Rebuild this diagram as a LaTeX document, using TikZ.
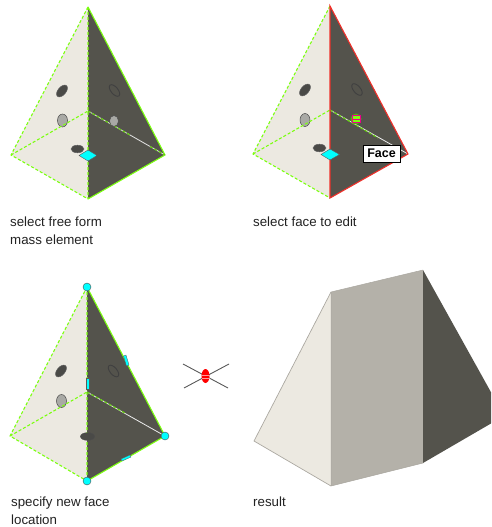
\documentclass[tikz,border=0pt]{standalone}
\usepackage{fontspec}
\setmainfont{Liberation Sans}
\definecolor{lightface}{HTML}{ECE9E1}
\definecolor{darkface}{HTML}{54534C}
\definecolor{midface}{HTML}{B4B1A9}
\definecolor{holedark}{HTML}{4A4A47}
\definecolor{holegray}{HTML}{A9A9A5}
\definecolor{grip}{HTML}{00FFFF}
\definecolor{sel}{HTML}{7CFF10}
\definecolor{hot}{HTML}{F0302A}
\definecolor{txt}{HTML}{222222}
\tikzset{
  x=1pt,y=-1pt,
  caption/.style={anchor=north west,inner sep=0pt,align=left,text=txt,font=\fontsize{13.3}{17.5}\selectfont},
  lface/.style={fill=lightface,draw=none},
  dface/.style={fill=darkface,draw=none},
  seldash/.style={draw=sel,line width=1.1pt,dash pattern=on 3pt off 2pt},
  selsolid/.style={draw=sel,line width=1.1pt},
  hotline/.style={draw=hot,line width=1.1pt},
  dhole/.style={fill=holedark,draw=gray!75!black,line width=.5pt},
  ghole/.style={fill=holegray,draw=gray!60!black,line width=.5pt},
  rhole/.style={fill=darkface,draw=black!75,line width=.9pt},
  gripd/.style={fill=grip,draw=gray!70!black,line width=.4pt},
  gripc/.style={circle,fill=grip,draw=gray!60!black,line width=.4pt,minimum size=8pt,inner sep=0pt},
  gripb/.style={fill=grip,draw=gray!70!black,line width=.3pt},
  ridge/.style={draw=white!85!gray,line width=.8pt},
}
\begin{document}
\begin{tikzpicture}
\useasboundingbox (0,0) rectangle (491,527);
% ---------- panel 1
\fill[lface] (88,7) -- (11,155) -- (88,199) -- cycle;
\fill[dface] (88,7) -- (165,155) -- (88,199) -- cycle;
\draw[ghole] (62.5,120.5) ellipse [x radius=5,y radius=6.5];
\draw[dhole] (62,91) ellipse [x radius=7,y radius=4,rotate=50];
\draw[rhole] (114.5,90.5) ellipse [x radius=7,y radius=3.5,rotate=-50];
\draw[dhole] (77.5,149) ellipse [x radius=6.5,y radius=3.8];
\draw[seldash] (88,7) -- (11,155) -- (88,199) (11,155) -- (88,111) (88,7) -- (88,199);
\draw[selsolid] (88,7) -- (165,155) -- (88,199);
\draw[ridge] (88,111) -- (165,155);
\draw[seldash,sel!80!black] (88,111) -- (130,135);
\draw[seldash,sel!80!black] (150,146.5) -- (165,155);
\draw[ghole] (114,121) ellipse [x radius=4.5,y radius=5.5];
\draw[gripd] (88,150) -- (97,155.5) -- (88,161) -- (79,155.5) -- cycle;
\node[caption] (cap1) at (10,217) {select free form\\mass element};
% ---------- panel 2
\fill[lface] (330,6) -- (253,154) -- (330,198) -- cycle;
\fill[dface] (330,6) -- (408,154) -- (330,198) -- cycle;
\draw[ghole] (305,120) ellipse [x radius=5,y radius=6.5];
\draw[dhole] (305,90) ellipse [x radius=7,y radius=4,rotate=50];
\draw[rhole] (357,89.5) ellipse [x radius=7,y radius=3.5,rotate=-50];
\draw[dhole] (319.5,148) ellipse [x radius=6.5,y radius=3.8];
\draw[seldash] (330,6) -- (253,154) -- (330,198) (253,154) -- (330,110);
\draw[ridge] (330,110) -- (408,154);
\draw[seldash,sel!80!black] (330,110) -- (378,138);
\draw[hotline] (330,6) -- (408,154) -- (330,198) -- cycle;
\fill[sel!70!black] (356,119) circle [radius=5.5];
\draw[magenta,fill=sel,line width=.7pt] (352,115.5) rectangle (360,122.5);
\draw[magenta,line width=.5pt] (352,119) -- (360,119);
\draw[gripd] (330,149) -- (339.5,154.5) -- (330,160) -- (321,154.5) -- cycle;
\node[draw=black,fill=white,line width=.6pt,inner xsep=3pt,inner ysep=2pt,font=\fontsize{12.5}{12.5}\selectfont\bfseries,minimum width=37pt,minimum height=17pt] (face) at (381.5,153.5) {Face};
\node[caption] (cap2) at (253,217) {select face to edit};
% ---------- panel 3
\fill[lface] (87,287) -- (10,436) -- (87,481) -- cycle;
\fill[dface] (87,287) -- (165,436) -- (87,481) -- cycle;
\draw[ghole] (61.5,401) ellipse [x radius=5,y radius=6.5];
\draw[dhole] (61,371) ellipse [x radius=7,y radius=4,rotate=50];
\draw[rhole] (113.5,371) ellipse [x radius=7,y radius=3.5,rotate=-50];
\draw[seldash] (87,287) -- (10,436) -- (87,481) (10,436) -- (87,392) (87,287) -- (87,481);
\draw[selsolid] (87,287) -- (165,436) -- (87,481);
\draw[ridge] (87,392) -- (165,436);
\draw[seldash,sel!80!black] (87,392) -- (125,413);
\draw[fill=holedark,draw=gray!60!black,line width=.5pt] (87.5,436.5) ellipse [x radius=7,y radius=3.8];
\draw[gripb] (86,378) rectangle (89,389.5);
\draw[gripb] (123.5,356) -- (126,355) -- (129,365) -- (126.5,366) -- cycle;
\draw[gripb] (121,459) -- (130,455) -- (131,457) -- (122,461) -- cycle;
\node[gripc] (g1) at (87,287) {};
\node[gripc] (g2) at (165,436) {};
\node[gripc] (g3) at (87,481) {};
\node[caption] (cap3) at (11,497) {specify new face\\location};
% cursor
\draw[gray!70!black,line width=.9pt] (183,364) -- (228,388) (184,388) -- (229,364);
\fill[red] (205.5,376) ellipse [x radius=4,y radius=7];
\draw[white!60!red,line width=.4pt] (201.5,375) -- (209.5,375) (201.5,378) -- (209.5,378);
% ---------- panel 4
\begin{scope}
\clip (0,0) rectangle (491,527);
\fill[lface] (331,292) -- (254,441) -- (331,486) -- cycle;
\fill[fill=midface] (331,292) -- (423,270) -- (423,463) -- (331,486) -- cycle;
\fill[dface] (423,270) -- (497,403) -- (497,420) -- (423,463) -- cycle;
\draw[midface!95!black,line width=.7pt] (331,292) -- (254,441) -- (331,486);
\draw[midface!95!black,line width=.5pt] (331,292) -- (423,270) (331,486) -- (423,463) (331,292) -- (331,486);
\end{scope}
\node[caption] (cap4) at (253,497) {result};
\end{tikzpicture}
\end{document}
